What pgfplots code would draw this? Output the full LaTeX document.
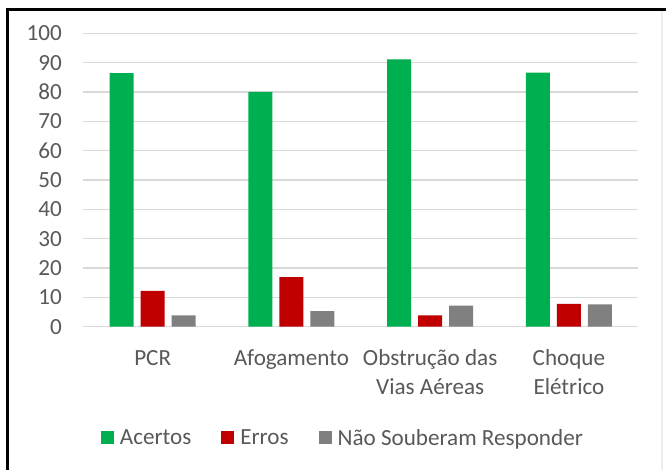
\documentclass[border=0pt]{standalone}
\usepackage{pgfplots}
\pgfplotsset{compat=1.18}
\usepackage{fontspec}
\setmainfont{Carlito}
\definecolor{cgreen}{HTML}{00B050}
\definecolor{cred}{HTML}{C00000}
\definecolor{cgray}{HTML}{808080}
\definecolor{ctext}{HTML}{595959}
\definecolor{cgrid}{HTML}{D9D9D9}
\begin{document}
\begin{tikzpicture}
\useasboundingbox (0,0) rectangle (666bp,-470bp);
\fill[white] (0,0) rectangle (666bp,-470bp);
\draw[line width=3bp] (7.5bp,-472bp) -- (7.5bp,-9.5bp) -- (668bp,-9.5bp);
\draw[black!7, line width=1.2bp] (662bp,-11bp) -- (662bp,-472bp);
\begin{axis}[
  at={(83.3bp,-326.7bp)}, anchor=south west,
  scale only axis, width=555bp, height=293.4bp,
  ybar=7bp, bar width=24bp,
  xmin=-0.5, xmax=3.5, ymin=0, ymax=100,
  xtick={0,1,2,3},
  xticklabels={{\strut PCR},{\strut Afogamento},{\strut Obstrução das\\Vias Aéreas},{\strut Choque\\Elétrico}},
  ytick={0,10,...,100},
  ymajorgrids, major grid style={draw=cgrid, line width=1.3bp},
  axis line style={draw=none},
  major tick length=0pt,
  tick label style={font=\fontsize{23.2}{29}\selectfont, text=ctext},
  yticklabel style={inner sep=0pt, anchor=east, xshift=-21.3bp, /pgf/number format/assume math mode=true},
  xticklabel style={inner sep=0pt, anchor=north, align=center, yshift=-18bp},
  legend style={at={(axis description cs:0.0314,-0.3793)}, anchor=west, draw=none, fill=none, inner sep=0pt,
    font=\fontsize{23.2}{27}\selectfont, text=ctext, nodes={inner sep=0pt},
    /tikz/every odd column/.append style={column sep=6bp},
    /tikz/every even column/.append style={column sep=30bp}},
  legend columns=-1,
  legend cell align=left,
]
\addplot[fill=cgreen, draw=none, legend image code/.code={\fill[cgreen] (0bp,-6.5bp) rectangle (13bp,6.5bp);}]
  coordinates {(0,86.4) (1,80.0) (2,91.1) (3,86.6)};
\addplot[fill=cred, draw=none, legend image code/.code={\fill[cred] (0bp,-6.5bp) rectangle (13bp,6.5bp);}]
  coordinates {(0,12.2) (1,16.9) (2,3.9) (3,7.8)};
\addplot[fill=cgray, draw=none, legend image code/.code={\fill[cgray] (0bp,-6.5bp) rectangle (13bp,6.5bp);}]
  coordinates {(0,3.9) (1,5.3) (2,7.2) (3,7.6)};
\legend{Acertos, Erros, Não Souberam Responder}
\end{axis}
\end{tikzpicture}
\end{document}
